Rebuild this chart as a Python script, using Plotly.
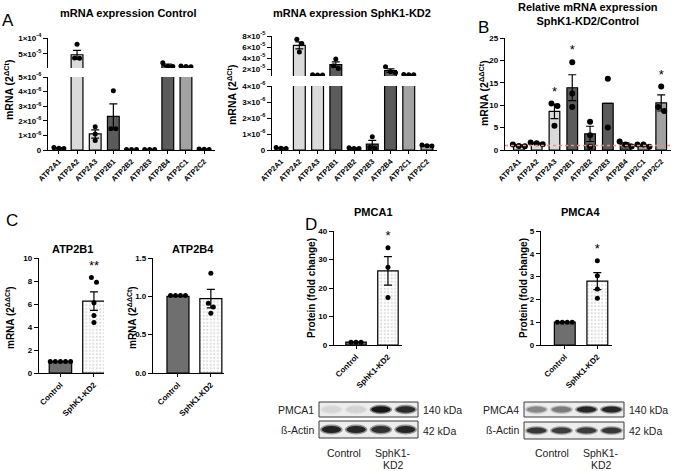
import math
import plotly.graph_objects as go

W, H = 676, 471
FONT = "Liberation Sans"

# ---------------- data ----------------
genes = ["ATP2A1", "ATP2A2", "ATP2A3", "ATP2B1", "ATP2B2", "ATP2B3", "ATP2B4", "ATP2C1", "ATP2C2"]
gene_colors = ["#dadada"] * 3 + ["#5b5b5b"] * 4 + ["#a2a2a2"] * 2

# A: mRNA expression (2^dCt), control
ctrl_mean = [1.2e-7, 4.7e-5, 1.1e-6, 2.3e-6, 3e-8, 3e-8, 1.35e-5, 9.5e-6, 5e-8]
ctrl_sem = [2e-8, 1.4e-5, 2.8e-7, 8.6e-7, 0, 0, 4e-6, 6e-7, 1e-8]
ctrl_pts = [[1.7e-7, 1.2e-7, 1.0e-7], [8.0e-5, 3.7e-5, 3.6e-5], [1.6e-6, 1.1e-6, 6.5e-7],
            [4.05e-6, 1.45e-6, 1.45e-6], [4e-8, 3e-8, 3e-8], [3e-8, 3e-8, 3e-8],
            [2.2e-5, 1.0e-5, 9.5e-6], [1.1e-5, 9.5e-6, 9.0e-6], [6e-8, 5e-8, 4e-8]]

# A: mRNA expression (2^dCt), SphK1-KD2
kd_mean = [1.2e-7, 6.3e-5, 9.2e-6, 2.8e-5, 1.1e-7, 3.7e-7, 1.7e-5, 9.6e-6, 2.8e-7]
kd_sem = [2e-8, 6.5e-6, 3e-7, 5e-6, 2e-8, 2.3e-7, 3.3e-6, 3e-7, 3e-8]
kd_pts = [[1.5e-7, 1.1e-7, 1.0e-7], [7.4e-5, 6.6e-5, 5.1e-5], [9.5e-6, 9.1e-6, 9.0e-6],
          [3.8e-5, 2.6e-5, 2.1e-5], [1.4e-7, 1.0e-7, 9e-8], [8.3e-7, 1.5e-7, 1.2e-7],
          [2.4e-5, 1.5e-5, 1.3e-5], [1.0e-5, 9.5e-6, 9.6e-6], [3.2e-7, 2.6e-7, 2.5e-7]]

# B: relative expression (2^ddCt)
rel_mean = [1.0, 1.5, 8.6, 13.9, 3.6, 10.4, 1.3, 1.0, 10.5]
rel_sem = [0.1, 0.12, 1.6, 2.9, 1.7, 0, 0.3, 0.15, 1.8]
rel_pts = [[1.2, 0.9, 0.85], [1.7, 1.5, 1.3], [10.4, 9.8, 5.4], [19.6, 12.6, 9.6],
           [6.3, 3.3, 0.7], [15.9, 5.0], [1.9, 1.2, 0.8], [1.2, 1.2, 0.7], [14.2, 9.6, 8.7]]
rel_sig = ["", "", "*", "*", "", "", "", "", "*"]

groups = ["Control", "SphK1-KD2"]

# C: qPCR single genes
b1_mean = [1.0, 6.25]
b1_sem = [0.0, 0.8]
b1_pts = [[1.0] * 5, [8.3, 7.9, 6.1, 5.0, 4.4]]
b1_sig = ["", "**"]

b4_mean = [1.0, 0.97]
b4_sem = [0.0, 0.12]
b4_pts = [[1.01] * 4, [1.3, 0.91, 0.86, 0.78]]

# D: protein
pmca1_mean = [1.0, 26.0]
pmca1_sem = [0.0, 5.0]
pmca1_pts = [[1.0] * 3, [34.1, 27.3, 16.7]]
pmca1_sig = ["", "*"]

pmca4_mean = [1.0, 2.8]
pmca4_sem = [0.0, 0.37]
pmca4_pts = [[1.0] * 4, [3.7, 3.04, 2.46, 2.05]]
pmca4_sig = ["", "*"]

# western blot band intensities (lanes: ctrl, ctrl, KD2, KD2)
blot1_target = [0.08, 0.1, 0.97, 0.88]
blot1_actin = [0.92, 0.9, 0.85, 0.9]
blot4_target = [0.45, 0.5, 0.9, 0.9]
blot4_actin = [0.82, 0.8, 0.8, 0.82]

# ---------------- helpers ----------------
TICKFONT = dict(family=FONT, size=8, color="black", weight="bold")
fig = go.Figure()
axes = {}


def px(x):
    return x / W


def py(y):
    return 1 - y / H


def sci(v):
    if v == 0:
        return "0"
    e = math.floor(math.log10(v) + 1e-9)
    m = round(v / 10 ** e)
    return f"{m}×10<sup>{e}</sup>"


def add_x(n, x0, x1, rng, labels, anchor, visible=True, matches=None, size=8):
    d = dict(domain=[px(x0), px(x1)], range=rng, anchor=anchor, showgrid=False,
             zeroline=False, automargin=False)
    if visible:
        d.update(tickvals=list(range(len(labels))), ticktext=labels, tickangle=-45,
                 showline=True, linecolor="black", linewidth=1.3, ticks="outside",
                 ticklen=3, tickwidth=1.2, tickcolor="black",
                 tickfont=dict(TICKFONT, size=size))
    else:
        d.update(visible=False, matches=matches)
    axes["xaxis" if n == 1 else f"xaxis{n}"] = d


def add_y(n, ytop, ybot, rng, tickvals, ticktext, anchor):
    axes["yaxis" if n == 1 else f"yaxis{n}"] = dict(
        domain=[py(ybot), py(ytop)], range=rng, anchor=anchor, automargin=False,
        tickvals=tickvals, ticktext=ticktext, showgrid=False, zeroline=False,
        showline=True, linecolor="black", linewidth=1.3, ticks="outside",
        ticklen=4, tickwidth=1.2, tickcolor="black", tickfont=TICKFONT)


def offsets(points, to_pix, xunit_px, gap=5.0):
    pix = [to_pix(v) for v in points]
    order = sorted(range(len(points)), key=lambda i: pix[i])
    grp = []
    for i in order:
        if grp and abs(pix[i] - pix[grp[-1][-1]]) < gap:
            grp[-1].append(i)
        else:
            grp.append([i])
    off = [0.0] * len(points)
    for g in grp:
        for k, i in enumerate(g):
            off[i] = (k - (len(g) - 1) / 2) * gap / xunit_px
    return off


def linear_pix(rng, ytop, ybot):
    return lambda v: ybot - (v - rng[0]) / (rng[1] - rng[0]) * (ybot - ytop)


def draw_bars(segs, means, sems, pts, colors, width, to_pix, xunit_px, dot=5, pattern=None):
    # segs: list of (axis number, [low, high] value range shown by that segment)
    xs, ys = [], []
    for i, p in enumerate(pts):
        off = offsets(p, to_pix, xunit_px, gap=dot)
        xs += [i + o for o in off]
        ys += p
    for n, (lo, hi) in segs:
        ref = "" if n == 1 else str(n)
        keep = [m > lo for m in means]
        marker = dict(color=colors, line=dict(color="black", width=1.2))
        if pattern is not None:
            marker["pattern"] = pattern
        fig.add_trace(go.Bar(
            x=list(range(len(means))), y=[m if k else None for m, k in zip(means, keep)],
            width=width, marker=marker,
            error_y=dict(type="data", array=[s if k else 0 for s, k in zip(sems, keep)],
                         color="black", thickness=1.2, width=4),
            xaxis="x" + ref, yaxis="y" + ref))
        sel = [(x, y) for x, y in zip(xs, ys) if lo <= y <= hi]
        fig.add_trace(go.Scatter(
            x=[s[0] for s in sel], y=[s[1] for s in sel], mode="markers",
            marker=dict(color="black", size=dot), xaxis="x" + ref, yaxis="y" + ref))


def add_sig(n, sig, pts, rng, ytop, ybot, size=13):
    ref = "" if n == 1 else str(n)
    unit = (rng[1] - rng[0]) / (ybot - ytop)
    xs, ys, ts = [], [], []
    for i, s in enumerate(sig):
        if s:
            xs.append(i)
            ys.append(max(pts[i]) + 11 * unit)
            ts.append(s)
    fig.add_trace(go.Scatter(x=xs, y=ys, text=ts, mode="text", cliponaxis=False,
                             textfont=dict(family=FONT, size=size, color="black"),
                             xaxis="x" + ref, yaxis="y" + ref))


def text(x, y, s, size=10.5, bold=False, xanchor="center", angle=0, color="black"):
    fig.add_annotation(x=px(x), y=py(y), xref="paper", yref="paper", text=s,
                       showarrow=False, xanchor=xanchor, yanchor="middle", textangle=angle,
                       font=dict(family=FONT, size=size, color=color,
                                 weight="bold" if bold else "normal"))


def blot(x0, x1, y0, y1, levels, tall):
    fig.add_shape(type="rect", xref="paper", yref="paper", x0=px(x0), x1=px(x1),
                  y0=py(y1), y1=py(y0), fillcolor="#ededed", line=dict(color="#3a3a3a", width=1))
    lw = (x1 - x0) / len(levels)
    cy = (y0 + y1) / 2
    for i, lv in enumerate(levels):
        cx = x0 + (i + 0.5) * lw
        g = int(232 - 215 * lv)
        for sw, sh, a in [(0.92, tall, 0.45), (0.78, tall * 0.7, 1.0)]:
            fig.add_shape(type="circle", xref="paper", yref="paper", layer="above",
                          x0=px(cx - lw * sw / 2), x1=px(cx + lw * sw / 2),
                          y0=py(cy + (y1 - y0) * sh / 2), y1=py(cy - (y1 - y0) * sh / 2),
                          fillcolor=f"rgba({g},{g},{g},{a})", line=dict(width=0))


# ---------------- panel A: control (broken axis) ----------------
lo_c, up_c = [0, 5e-6], [5e-6, 1e-4]
add_x(1, 48, 215, [-0.6, 8.6], genes, "y", size=7.5)
add_y(1, 77, 150, lo_c, [0, 1e-6, 2e-6, 3e-6, 4e-6, 5e-6],
      [sci(v) for v in [0, 1e-6, 2e-6, 3e-6, 4e-6, 5e-6]], "x")
add_x(2, 48, 215, [-0.6, 8.6], genes, "y2", visible=False, matches="x")
add_y(2, 38, 68, up_c, [5e-5, 1e-4], [sci(5e-5), sci(1e-4)], "x2")


def pix_ctrl(v):
    if v <= lo_c[1]:
        return linear_pix(lo_c, 77, 150)(v)
    return linear_pix(up_c, 38, 68)(v)


draw_bars([(1, [-1, lo_c[1]]), (2, up_c)], ctrl_mean, ctrl_sem, ctrl_pts, gene_colors, 0.65,
          pix_ctrl, 167 / 9.2)

# ---------------- panel A: SphK1-KD2 (broken axis) ----------------
lo_k, up_k = [0, 4e-6], [7.3e-6, 8e-5]
add_x(3, 272, 437, [-0.5, 8.55], genes, "y3", size=7.5)
add_y(3, 86, 150, lo_k, [0, 1e-6, 2e-6, 3e-6, 4e-6],
      [sci(v) for v in [0, 1e-6, 2e-6, 3e-6, 4e-6]], "x3")
add_x(4, 272, 437, [-0.5, 8.55], genes, "y4", visible=False, matches="x3")
add_y(4, 36, 76, up_k, [2e-5, 4e-5, 6e-5, 8e-5], [sci(v) for v in [2e-5, 4e-5, 6e-5, 8e-5]], "x4")


def pix_kd(v):
    if v <= lo_k[1]:
        return linear_pix(lo_k, 86, 150)(v)
    return linear_pix(up_k, 36, 76)(v)


draw_bars([(3, [-1, lo_k[1]]), (4, up_k)], kd_mean, kd_sem, kd_pts, gene_colors, 0.65,
          pix_kd, 165 / 9.05)

# ---------------- panel B ----------------
rng_b = [0, 25]
add_x(5, 505, 671, [-0.78, 8.55], genes, "y5", size=7.5)
add_y(5, 38, 150, rng_b, [0, 5, 10, 15, 20, 25], ["0", "5", "10", "15", "20", "25"], "x5")
draw_bars([(5, [-1, 100])], rel_mean, rel_sem, rel_pts, gene_colors, 0.6,
          linear_pix(rng_b, 38, 150), 166 / 9.33, dot=6)
add_sig(5, rel_sig, rel_pts, rng_b, 38, 150)
fig.add_shape(type="line", xref="x5 domain", yref="y5", x0=0, x1=1, y0=1, y1=1,
              line=dict(color="#f08a8a", width=1.3, dash="dot"), layer="above")

# ---------------- panel C ----------------
ctrl_col = "#6f6f6f"
pat = dict(shape=["", "."], fgcolor="#8c8c8c", bgcolor="#dcdcdc", size=3.5, solidity=0.3)
rng_c1, rng_c2 = [0, 10], [0, 1.5]
add_x(6, 39, 104, [-0.64, 1.3], groups, "y6")
add_y(6, 258, 373, rng_c1, [0, 2, 4, 6, 8, 10], ["0", "2", "4", "6", "8", "10"], "x6")
draw_bars([(6, [-1, 100])], b1_mean, b1_sem, b1_pts, [ctrl_col, "#dcdcdc"], 0.67,
          linear_pix(rng_c1, 258, 373), 33, pattern=pat)
add_sig(6, b1_sig, b1_pts, rng_c1, 258, 373)

add_x(7, 153, 224, [-0.76, 1.4], groups, "y7")
add_y(7, 258, 373, rng_c2, [0, 0.5, 1.0, 1.5], ["0.0", "0.5", "1.0", "1.5"], "x7")
draw_bars([(7, [-1, 100])], b4_mean, b4_sem, b4_pts, [ctrl_col, "#dcdcdc"], 0.67,
          linear_pix(rng_c2, 258, 373), 33, pattern=pat)

# ---------------- panel D ----------------
rng_d1, rng_d2 = [0, 40], [0, 5]
add_x(8, 334, 402, [-0.69, 1.44], groups, "y8")
add_y(8, 231, 345, rng_d1, [0, 10, 20, 30, 40], ["0", "10", "20", "30", "40"], "x8")
draw_bars([(8, [-1, 100])], pmca1_mean, pmca1_sem, pmca1_pts, [ctrl_col, "#dcdcdc"], 0.64,
          linear_pix(rng_d1, 231, 345), 32, pattern=pat)
add_sig(8, pmca1_sig, pmca1_pts, rng_d1, 231, 345)

add_x(9, 541, 612, [-0.73, 1.45], groups, "y9")
add_y(9, 231, 345, rng_d2, [0, 1, 2, 3, 4, 5], ["0", "1", "2", "3", "4", "5"], "x9")
draw_bars([(9, [-1, 100])], pmca4_mean, pmca4_sem, pmca4_pts, [ctrl_col, "#dcdcdc"], 0.64,
          linear_pix(rng_d2, 231, 345), 33, pattern=pat)
add_sig(9, pmca4_sig, pmca4_pts, rng_d2, 231, 345)

# ---------------- titles, labels ----------------
text(8, 21, "A", size=17)
text(483, 28, "B", size=17)
text(12, 220, "C", size=17)
text(311, 224, "D", size=17)

text(128, 13, "mRNA expression Control", size=11, bold=True)
text(352, 13, "mRNA expression SphK1-KD2", size=11, bold=True)
text(588, 14, "Relative mRNA expression<br>SphK1-KD2/Control", size=11, bold=True)
text(72, 249, "ATP2B1", size=11, bold=True)
text(193, 249, "ATP2B4", size=11, bold=True)
text(373, 212, "PMCA1", size=11, bold=True)
text(580, 212, "PMCA4", size=11, bold=True)

text(9, 90, "mRNA (2<sup>ΔCt</sup>)", size=10.5, bold=True, angle=-90)
text(232, 95, "mRNA (2<sup>ΔCt</sup>)", size=10.5, bold=True, angle=-90)
text(484, 93, "mRNA (2<sup>ΔΔCt</sup>)", size=10.5, bold=True, angle=-90)
text(10, 318, "mRNA (2<sup>ΔΔCt</sup>)", size=10, bold=True, angle=-90)
text(132, 318, "mRNA (2<sup>ΔΔCt</sup>)", size=10, bold=True, angle=-90)
text(311, 288, "Protein (fold change)", size=10, bold=True, angle=-90)
text(523, 288, "Protein (fold change)", size=10, bold=True, angle=-90)

# ---------------- western blots ----------------
blot(319, 418, 402, 417, blot1_target, 0.62)
blot(319, 418, 421, 438, blot1_actin, 0.6)
blot(524, 624, 402, 417, blot4_target, 0.55)
blot(524, 624, 422, 439, blot4_actin, 0.5)

for xr, xl, xc1, xc2, name in [(316, 421, 344, 393, "PMCA1"), (521, 627, 552, 601, "PMCA4")]:
    text(xr, 410, name, xanchor="right", color="#222")
    text(xr, 430, "ß-Actin", xanchor="right", color="#222")
    text(xl, 410, "140 kDa", xanchor="left", color="#222")
    text(xl, 431, "42 kDa", xanchor="left", color="#222")
    text(xc1, 453, "Control", color="#222")
    text(xc2, 453, "SphK1-", color="#222")
    text(xc2, 465, "KD2", color="#222")

fig.update_layout(
    template="none",
    width=W, height=H,
    margin=dict(l=0, r=0, t=0, b=0),
    paper_bgcolor="white", plot_bgcolor="white",
    showlegend=False, barmode="overlay",
    font=dict(family=FONT, color="black"),
    **axes
)

fig.write_html("out.html", config={"displayModeBar": False},
               post_script="document.body.style.margin='0';")
